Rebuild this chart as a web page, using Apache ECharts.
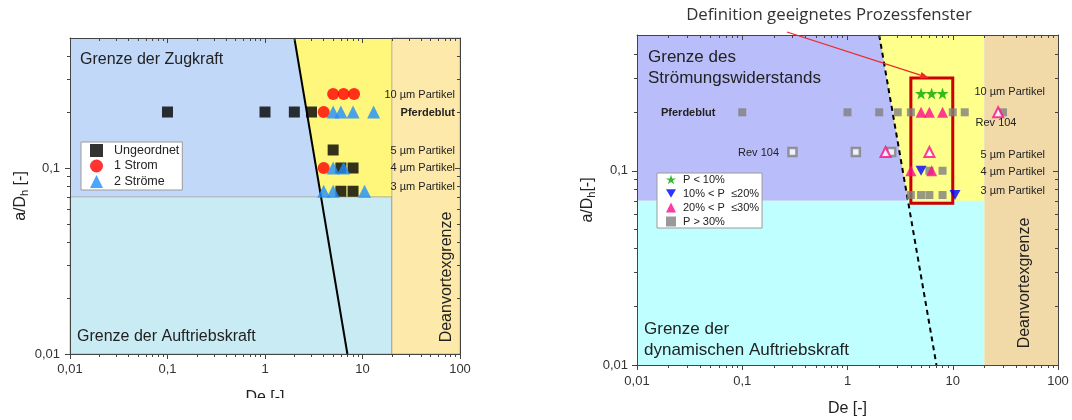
<!DOCTYPE html>
<html><head><meta charset="utf-8">
<script src="https://cdn.jsdelivr.net/npm/echarts@6/dist/echarts.min.js"></script>
<style>html,body{margin:0;padding:0;background:#fff;} #c{width:1072px;height:420px;}</style>
</head><body><div id="c"></div>
<script>
// ---------------- data ----------------
const xRange = [0.01, 100];
const yRange = [0.01, 0.5];
const xMajorTicks = [0.01, 0.1, 1, 10, 100];
const xMinorTicks = [0.02,0.03,0.04,0.05,0.06,0.07,0.08,0.09,
                     0.2,0.3,0.4,0.5,0.6,0.7,0.8,0.9,
                     2,3,4,5,6,7,8,9,
                     20,30,40,50,60,70,80,90];
const yMajorTicks = [0.01, 0.1];
const yMinorTicks = [0.02,0.03,0.04,0.05,0.06,0.07,0.08,0.09,0.2,0.3,0.4];
const deanLimit = 20;          // De boundary (Deanvortexgrenze)
const regionSplitY = 0.07;     // a/Dh boundary (Auftriebskraft)
const boundaryLine = [[2, 0.5], [7, 0.01]];

// left chart
const ungeordnet = [[0.1,0.2],[1,0.2],[2,0.2],[3,0.2],[5,0.125],[6,0.1],[8,0.1],[6,0.075],[8,0.075]];
const einStrom = [[5,0.25],[6.4,0.25],[8.2,0.25],[4,0.2],[4,0.1]];
const zweiStroeme = [[5,0.2],[6,0.2],[8,0.2],[13,0.2],[5,0.1],[6.4,0.1],[4,0.075],[5,0.075],[10.5,0.075]];

// right chart
const pUnder10 = [[5,0.25],[6.3,0.25],[8,0.25]];
const p10to20 = [[5,0.1],[10.5,0.075]];
const p20to30 = [[5,0.2],[6,0.2],[8,0.2],[4,0.1],[6.3,0.1]];
const p20to30Rev = [[27,0.2],[2.3,0.125],[6,0.125]];
const pOver30 = [[0.1,0.2],[1,0.2],[2,0.2],[3,0.2],[4,0.2],[10,0.2],[13,0.2],[30,0.2],
                 [6,0.1],[8,0.1],[4,0.075],[5,0.075],[6,0.075],[8,0.075]];
const pOver30Rev = [[0.3,0.125],[1.2,0.125],[2.6,0.125]];
const processWindow = [[4, 0.068], [10, 0.3]];

// ---------------- helpers ----------------
const FONT = '"Liberation Sans", Arial, sans-serif';
function fmtLog(v){
  const l = Math.log10(v), n = Math.round(l);
  if (Math.abs(l - n) > 1e-6) return '';
  return n < 0 ? '0,' + '0'.repeat(-n - 1) + '1' : String(Math.pow(10, n));
}
function mkAxis(dim, gi, position, o){
  const range = dim === 'x' ? xRange : yRange;
  const ax = {
    type:'log', logBase:10, gridIndex:gi, position:position, min:range[0], max:range[1], z:10,
    axisLine:{show:!!o.line, lineStyle:{color:'#444', width:1}},
    axisTick:{show:true, inside:!!o.inside, length:o.len, customValues:o.ticks, lineStyle:{color:'#444', width:1}},
    axisLabel:{show:false},
    splitLine:{show:false},
    axisPointer:{show:false}
  };
  if (o.label) {
    ax.axisLabel = {show:true, customValues:o.ticks, formatter:fmtLog, color:'#333', fontSize:13, fontFamily:FONT, margin:o.margin};
  }
  if (o.name) {
    ax.name = o.name; ax.nameLocation = 'middle'; ax.nameGap = o.nameGap;
    ax.nameTextStyle = o.nameStyle;
  }
  return ax;
}
function axesFor(gi, opt){
  const xs = [
    mkAxis('x', gi, 'bottom', {line:true, len:5, ticks:xMajorTicks, label:true, margin:opt.xMargin,
      name:'De [-]', nameGap:opt.xNameGap, nameStyle:{fontSize:16, color:'#222', fontFamily:FONT}}),
    mkAxis('x', gi, 'bottom', {len:3, ticks:xMinorTicks}),
    mkAxis('x', gi, 'top', {line:true, inside:true, len:5, ticks:xMajorTicks}),
    mkAxis('x', gi, 'top', {inside:true, len:3, ticks:xMinorTicks})
  ];
  const ys = [
    mkAxis('y', gi, 'left', {line:true, len:5, ticks:yMajorTicks, label:true, margin:opt.yMargin,
      name:opt.yName, nameGap:opt.yNameGap,
      nameStyle:{fontFamily:FONT, color:'#222', rich:{a:{fontSize:16, fontFamily:FONT, color:'#222'}, b:{fontSize:11, fontFamily:FONT, color:'#222', padding:[8,0,0,0]}}}}),
    mkAxis('y', gi, 'left', {len:3, ticks:yMinorTicks}),
    mkAxis('y', gi, 'right', {line:true, inside:true, len:5, ticks:yMajorTicks}),
    mkAxis('y', gi, 'right', {inside:true, len:3, ticks:yMinorTicks})
  ];
  return {xs, ys};
}
function regionsRender(colors, edge){
  return function(params, api){
    const P = pts => pts.map(p => api.coord(p));
    const x0 = xRange[0], x1 = xRange[1], y0 = yRange[0], y1 = yRange[1];
    const poly = (pts, fill, stroke) => ({type:'polygon', shape:{points:P(pts)},
      style:{fill:fill, stroke:stroke || null, lineWidth:stroke ? 1 : 0}});
    return {type:'group', children:[
      poly([[x0,y1],[deanLimit,y1],[deanLimit,regionSplitY],[x0,regionSplitY]], colors.upper),
      poly([boundaryLine[0],[deanLimit,y1],[deanLimit,y0],boundaryLine[1]], colors.mid),
      poly([[x0,regionSplitY],[deanLimit,regionSplitY],[deanLimit,y0],[x0,y0]], colors.lower, edge),
      poly([[deanLimit,y1],[x1,y1],[x1,y0],[deanLimit,y0]], colors.dean, edge)
    ]};
  };
}
function scatter(name, data, axIdx, symbol, size, style, z){
  return {type:'scatter', name:name, data:data, xAxisIndex:axIdx, yAxisIndex:axIdx,
    symbol:symbol, symbolSize:size, itemStyle:style, z:z || 5, silent:true};
}
const STAR = 'path://M50,0L61.8,35.4L98.9,35.4L68.9,57.3L80.3,92.7L50,70.8L19.7,92.7L31.1,57.3L1.1,35.4L38.2,35.4Z';
const DOWN = 'path://M0,0L10,0L5,8.66Z';
const PINK = '#ff0a8c', GREY = '#7f7f7f';

const L = axesFor(0, {xMargin:9, xNameGap:36, yMargin:10, yNameGap:40, yName:'{a|a/D}{b|h}{a| [-]}'});
const R = axesFor(1, {xMargin:10, xNameGap:36, yMargin:9, yNameGap:40, yName:'{a|a/D}{b|h}{a|[-]}'});

const leftColors = {upper:'#c1d8f9', mid:'#fff67c', lower:'#c9ebf3', dean:'#fde9aa'};
const rightColors = {upper:'#b9bdf9', mid:'#ffff8c', lower:'#bfffff', dean:'#f1daa8'};

const series = [
  // left panel (axes 0)
  {type:'custom', xAxisIndex:0, yAxisIndex:0, data:[[1,0.1]], renderItem:regionsRender(leftColors, 'rgba(110,110,110,0.45)'), silent:true, z:1, clip:false},
  {type:'line', xAxisIndex:0, yAxisIndex:0, data:boundaryLine, symbol:'none', lineStyle:{color:'#000', width:2}, z:3, silent:true},
  scatter('Ungeordnet', ungeordnet, 0, 'rect', 11, {color:'#000'}),
  scatter('1 Strom', einStrom, 0, 'circle', 12, {color:'#ff0000'}),
  scatter('2 Ströme', zweiStroeme, 0, 'triangle', 13, {color:'#1e8fff'}),
  // right panel (axes 4)
  {type:'custom', xAxisIndex:4, yAxisIndex:4, data:[[1,0.1]], renderItem:regionsRender(rightColors, null), silent:true, z:1, clip:false},
  {type:'line', xAxisIndex:4, yAxisIndex:4, data:boundaryLine, symbol:'none', lineStyle:{color:'#000', width:2, type:[5,4]}, z:3, silent:true},
  {type:'custom', xAxisIndex:4, yAxisIndex:4, silent:true, z:4, clip:false,
    data:[[processWindow[0][0], processWindow[0][1], processWindow[1][0], processWindow[1][1]]],
    encode:{x:[0,2], y:[1,3]},
    renderItem:function(params, api){
      const a = api.coord([api.value(0), api.value(1)]);
      const b = api.coord([api.value(2), api.value(3)]);
      return {type:'rect', shape:{x:a[0], y:b[1], width:b[0]-a[0], height:a[1]-b[1]},
        style:{fill:'none', stroke:'#cc0000', lineWidth:3, lineJoin:'miter'}};
    }},
  scatter('P > 30%', pOver30, 4, 'rect', 8, {color:GREY}),
  scatter('rev30', pOver30Rev, 4, 'rect', 8, {color:'#fff', borderColor:GREY, borderWidth:2.5}),
  scatter('20% < P  ≤30%', p20to30, 4, 'triangle', 11, {color:PINK}, 6),
  scatter('rev20', p20to30Rev, 4, 'triangle', 10, {color:'#fff', borderColor:PINK, borderWidth:2}, 6),
  scatter('10% < P  ≤20%', p10to20, 4, DOWN, [11,10], {color:'#0000ff'}, 6),
  scatter('P < 10%', pUnder10, 4, STAR, 12, {color:'#00aa00'}, 6)
];

function txt(text, x, y, o){
  o = o || {};
  return {type:'text', x:x, y:y, rotation:o.rot || 0, z:50, silent:true,
    style:{text:text, fill:o.color || '#222', font:(o.weight || 'normal') + ' ' + (o.size || 16) + 'px ' + (o.family || FONT),
      align:o.align || 'left', verticalAlign:o.va || 'middle', lineHeight:o.lh}};
}
// annotation arrow geometry
const arrowFrom = [787, 32], arrowTo = [929, 78];
const ang = Math.atan2(arrowTo[1]-arrowFrom[1], arrowTo[0]-arrowFrom[0]);
const hl = 9, hw = 3.5;
const base = [arrowTo[0]-hl*Math.cos(ang), arrowTo[1]-hl*Math.sin(ang)];
const head = [arrowTo, [base[0]+hw*Math.sin(ang), base[1]-hw*Math.cos(ang)], [base[0]-hw*Math.sin(ang), base[1]+hw*Math.cos(ang)]];

const graphics = [
  // left panel texts
  txt('Grenze der Zugkraft', 80, 60, {size:16}),
  txt('Grenze der Auftriebskraft', 77, 337, {size:16}),
  txt('Deanvortexgrenze', 447, 277, {size:16, rot:Math.PI/2, align:'center'}),
  txt('10 µm Partikel', 455, 95, {size:11, align:'right'}),
  txt('Pferdeblut', 455, 113, {size:11, align:'right', weight:'bold'}),
  txt('5 µm Partikel', 455, 151, {size:11, align:'right'}),
  txt('4 µm Partikel', 455, 168, {size:11, align:'right'}),
  txt('3 µm Partikel', 455, 187, {size:11, align:'right'}),
  // right panel texts
  txt('Grenze des\nStrömungswiderstands', 648, 68, {size:17, lh:21}),
  txt('Grenze der\ndynamischen Auftriebskraft', 644, 340, {size:17, lh:21}),
  txt('Deanvortexgrenze', 1025, 283, {size:16, rot:Math.PI/2, align:'center'}),
  txt('10 µm Partikel', 1045, 92, {size:11, align:'right'}),
  txt('Pferdeblut', 661, 113, {size:11, weight:'bold'}),
  txt('Rev 104', 996, 123, {size:11, align:'center'}),
  txt('Rev 104', 779, 153, {size:11, align:'right'}),
  txt('5 µm Partikel', 1045, 155, {size:11, align:'right'}),
  txt('4 µm Partikel', 1045, 172, {size:11, align:'right'}),
  txt('3 µm Partikel', 1045, 191, {size:11, align:'right'}),
  txt('Definition geeignetes Prozessfenster', 829, 15, {size:16.8, align:'center', family:'"Open Sans", sans-serif', color:'#333'}),
  {type:'line', z:60, silent:true, shape:{x1:arrowFrom[0], y1:arrowFrom[1], x2:base[0], y2:base[1]}, style:{stroke:'#f02828', lineWidth:1.3}},
  {type:'polygon', z:60, silent:true, shape:{points:head}, style:{fill:'#f02828'}},
  // reference crop at bottom of left figure
  {type:'rect', z:100, silent:true, shape:{x:0, y:398, width:540, height:22}, style:{fill:'#fff'}}
];

const option = {
  animation:false,
  backgroundColor:'#fff',
  grid:[
    {left:70, top:38, width:390, height:316, outerBoundsMode:'none', containLabel:false},
    {left:637, top:35, width:421, height:330, outerBoundsMode:'none', containLabel:false}
  ],
  xAxis: L.xs.concat(R.xs),
  yAxis: L.ys.concat(R.ys),
  legend:[
    {data:['Ungeordnet','1 Strom','2 Ströme'], orient:'vertical', left:81, top:142, padding:[2,3,2,9],
     itemWidth:13, itemHeight:13, itemGap:2.5, backgroundColor:'#fff', borderColor:'#9a9a9a', borderWidth:1,
     selectedMode:false, textStyle:{fontSize:12.5, color:'#222', fontFamily:FONT, padding:[0,0,0,6]}, z:20},
    {data:['P < 10%','10% < P  ≤20%','20% < P  ≤30%','P > 30%'], orient:'vertical', left:657, top:173, padding:[1,3,1,9],
     itemWidth:10, itemHeight:10, itemGap:3, backgroundColor:'#fff', borderColor:'#9a9a9a', borderWidth:1,
     selectedMode:false, textStyle:{fontSize:11, color:'#222', fontFamily:FONT, padding:[0,0,0,2]}, z:20}
  ],
  series: series,
  graphic: graphics
};
const chart = echarts.init(document.getElementById('c'), null, {renderer:'canvas'});
chart.setOption(option);
</script></body></html>
